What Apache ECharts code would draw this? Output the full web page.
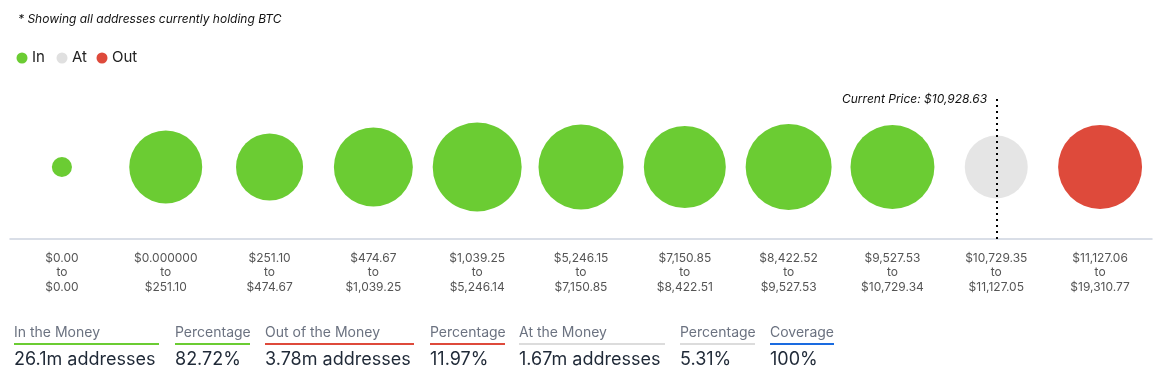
<!DOCTYPE html>
<html><head><meta charset="utf-8">
<script src="https://cdn.jsdelivr.net/npm/echarts@6/dist/echarts.min.js"></script>
<style>html,body{margin:0;padding:0;background:#fff}#c{width:1167px;height:388px}</style>
</head><body><div id="c"></div>
<script>
const rangeFrom = ['$0.00','$0.000000','$251.10','$474.67','$1,039.25','$5,246.15','$7,150.85','$8,422.52','$9,527.53','$10,729.35','$11,127.06'];
const rangeTo   = ['$0.00','$251.10','$474.67','$1,039.25','$5,246.14','$7,150.85','$8,422.51','$9,527.53','$10,729.34','$11,127.05','$19,310.77'];
// estimated addresses (millions) per bucket
const addresses = [0.20, 2.63, 2.22, 3.08, 3.91, 3.57, 3.32, 3.65, 3.48, 1.96, 3.48];
const status    = ['In','In','In','In','In','In','In','In','In','At','Out'];
const currentPrice = '$10,928.63';
const currentBucket = 9;
const statLabels = ['In the Money','Percentage','Out of the Money','Percentage','At the Money','Percentage','Coverage'];
const statValues = ['26.1m addresses','82.72%','3.78m addresses','11.97%','1.67m addresses','5.31%','100%'];

const colors = {In:'#6bcc33', At:'#e0e0e0', Out:'#de4a3b'};
const statColors = ['#6bcc33','#6bcc33','#de4a3b','#de4a3b','#dcdcdc','#dcdcdc','#1a6be0'];
const statX = [14,175,265,430,519,680,770];
const statW = [145,75,149,75,146,75,64];
const FONT = 'Inter, "Noto Sans", sans-serif';

const cats = rangeFrom.map((f,i)=>f+'\nto\n'+rangeTo[i]);
const chart = echarts.init(document.getElementById('c'));

const graphics = [
  {type:'text', left:18, top:13, style:{text:'* Showing all addresses currently holding BTC', font:'italic 12px '+FONT, fill:'#111'}},
  {type:'text', left:842, top:93, style:{text:'Current Price: '+currentPrice, font:'italic 12px '+FONT, fill:'#111'}}
];
['In','At','Out'].forEach((k,i)=>{
  const x=[22,62,102][i];
  graphics.push({type:'circle', shape:{cx:x, cy:58, r:5.5}, style:{fill:colors[k]}});
  graphics.push({type:'text', left:x+10, top:50, style:{text:k, font:'15px '+FONT, fill:'#222'}});
});
statLabels.forEach((t,i)=>{
  graphics.push({type:'text', left:statX[i], top:326, style:{text:t, font:'14px '+FONT, fill:'#6b7280'}});
  graphics.push({type:'rect', shape:{x:statX[i], y:343, width:statW[i], height:2}, style:{fill:statColors[i]}});
  graphics.push({type:'text', left:statX[i], top:351, style:{text:statValues[i], font:'18px '+FONT, fill:'#1f2937'}});
});

chart.setOption({
  animation:false,
  textStyle:{fontFamily:FONT},
  grid:{left:10, right:15, top:95, bottom:149},
  xAxis:{type:'category', data:cats, boundaryGap:true,
    axisLine:{lineStyle:{color:'#cdd3e0', width:1.5}}, axisTick:{show:false},
    axisLabel:{color:'#555', fontSize:12, lineHeight:14.5, margin:12, interval:0, fontFamily:FONT}},
  yAxis:{type:'value', min:0, max:2, show:false},
  graphic:graphics,
  series:[
    {type:'scatter', z:1, data:[], markLine:{symbol:'none', silent:true, label:{show:false},
      lineStyle:{color:'#000', type:[2,4], width:2}, data:[{xAxis:currentBucket}]}},
    {type:'scatter', z:2,
     data:addresses.map((v,i)=>({value:[i,1,v], itemStyle:{color:colors[status[i]], opacity:status[i]==='At'?0.85:1}})),
     symbolSize:d=>45*Math.sqrt(d[2])}
  ]
});
</script></body></html>
